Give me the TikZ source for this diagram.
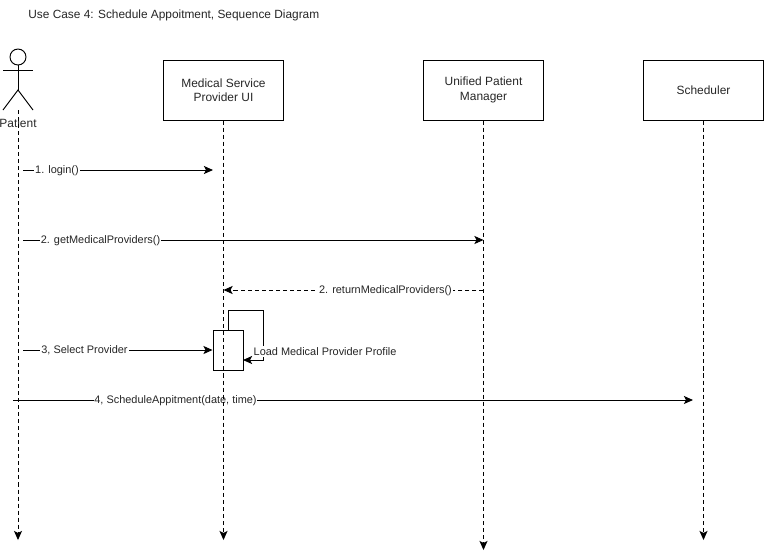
\documentclass[tikz,border=0pt]{standalone}
\usepackage{fontspec}
\setmainfont{Liberation Sans}
\usetikzlibrary{arrows.meta}
\tikzset{
	party/.style={draw,line width=0.55pt,minimum width=2.4cm,minimum height=1.2cm,align=center,inner sep=0pt},
	msg/.style={fill=white,inner xsep=0.5pt,inner ysep=1pt,text=black!85,font=\fontsize{6.22}{7.5}\selectfont},
	call/.style={line width=0.55pt,-{Stealth[length=5.2pt,width=4.6pt,inset=1.2pt]}},
	lifeline/.style={call,dashed,dash pattern=on 2.3pt off 1.7pt}
}
\begin{document}
\begin{tikzpicture}[x=0.02cm,y=-0.02cm,font=\fontsize{6.8}{8.2}\selectfont]
		\useasboundingbox (0,0) rectangle (764,559);
		
		\node[anchor=west,text=black!85,inner sep=0pt,font=\fontsize{6.76}{8.2}\selectfont] (title) at (28,15.7){Use Case 4: Schedule Appoitment, Sequence Diagram};
		
		\node[party,text=black!85] (ui) at (223.5,90){Medical Service\\Provider UI};
		\node[party,text=black!85] (manager) at (483.5,90){Unified Patient\\Manager};
		\node[party,text=black!85] (scheduler) at (703.5,90){Scheduler};
		
		% patient figure
		\draw[line width=0.55pt](18,57) circle [radius=8];
		\draw[line width=0.55pt](18,65)--(18,90);
		\draw[line width=0.55pt](3,70)--(33,70);
		\draw[line width=0.55pt](3,110)--(18,90)--(33,110);
		\node[text=black!85,inner sep=0pt] (patient) at (18,123.5){Patient};
		
		\coordinate (patienttop) at (18,110);
		\coordinate (patientend) at (18,540);
		\coordinate (uiend) at (223.5,540);
		\coordinate (managerend) at (483.5,550);
		\coordinate (schedulerend) at (703.5,540);
		
		% messages
		\coordinate (loginfrom) at (23,170);
		\coordinate (loginto) at (213,170);
		\draw[call](loginfrom)--(loginto);
		\node[msg] (login) at (57,170.7){1. login()};
		
		\coordinate (getfrom) at (23,240);
		\coordinate (getto) at (483.5,240);
		\draw[call](getfrom)--(getto);
		\node[msg] (getproviders) at (100.5,240.7){2. getMedicalProviders()};
		
		\coordinate (returnfrom) at (483.5,290);
		\coordinate (returnto) at (223.5,290);
		\draw[call,dashed,dash pattern=on 2.3pt off 1.7pt](returnfrom)--(returnto);
		\node[msg] (returnproviders) at (385.5,291){2. returnMedicalProviders()};
		
		\node[draw,line width=0.55pt,minimum width=0.6cm,minimum height=0.8cm,inner sep=0pt] (active) at (228,350){};
		
		\coordinate (selectfrom) at (23,350);
		\draw[call](selectfrom)--(active.west);
		\node[msg] (select) at (84.5,350.7){3, Select Provider};
		
		\coordinate (loopfrom) at (228,330);
		\coordinate (loopto) at (243,360);
		\draw[call](loopfrom)--(228,310)--(263,310)--(263,360)--(loopto);
		\node[msg,anchor=west] (profile) at (252.5,351.5){Load Medical Provider Profile};
		
		\coordinate (schedfrom) at (13,400);
		\coordinate (schedto) at (693,400);
		\draw[call](schedfrom)--(schedto);
		\node[msg] (schedule) at (175.5,400.7){4, ScheduleAppitment(date, time)};
		
		% lifelines go last, they show through the labels
		\draw[lifeline](patienttop)--(patientend);
		\draw[lifeline](ui.south)--(uiend);
		\draw[lifeline](manager.south)--(managerend);
		\draw[lifeline](scheduler.south)--(schedulerend);
		
		\end{tikzpicture}
\end{document}
